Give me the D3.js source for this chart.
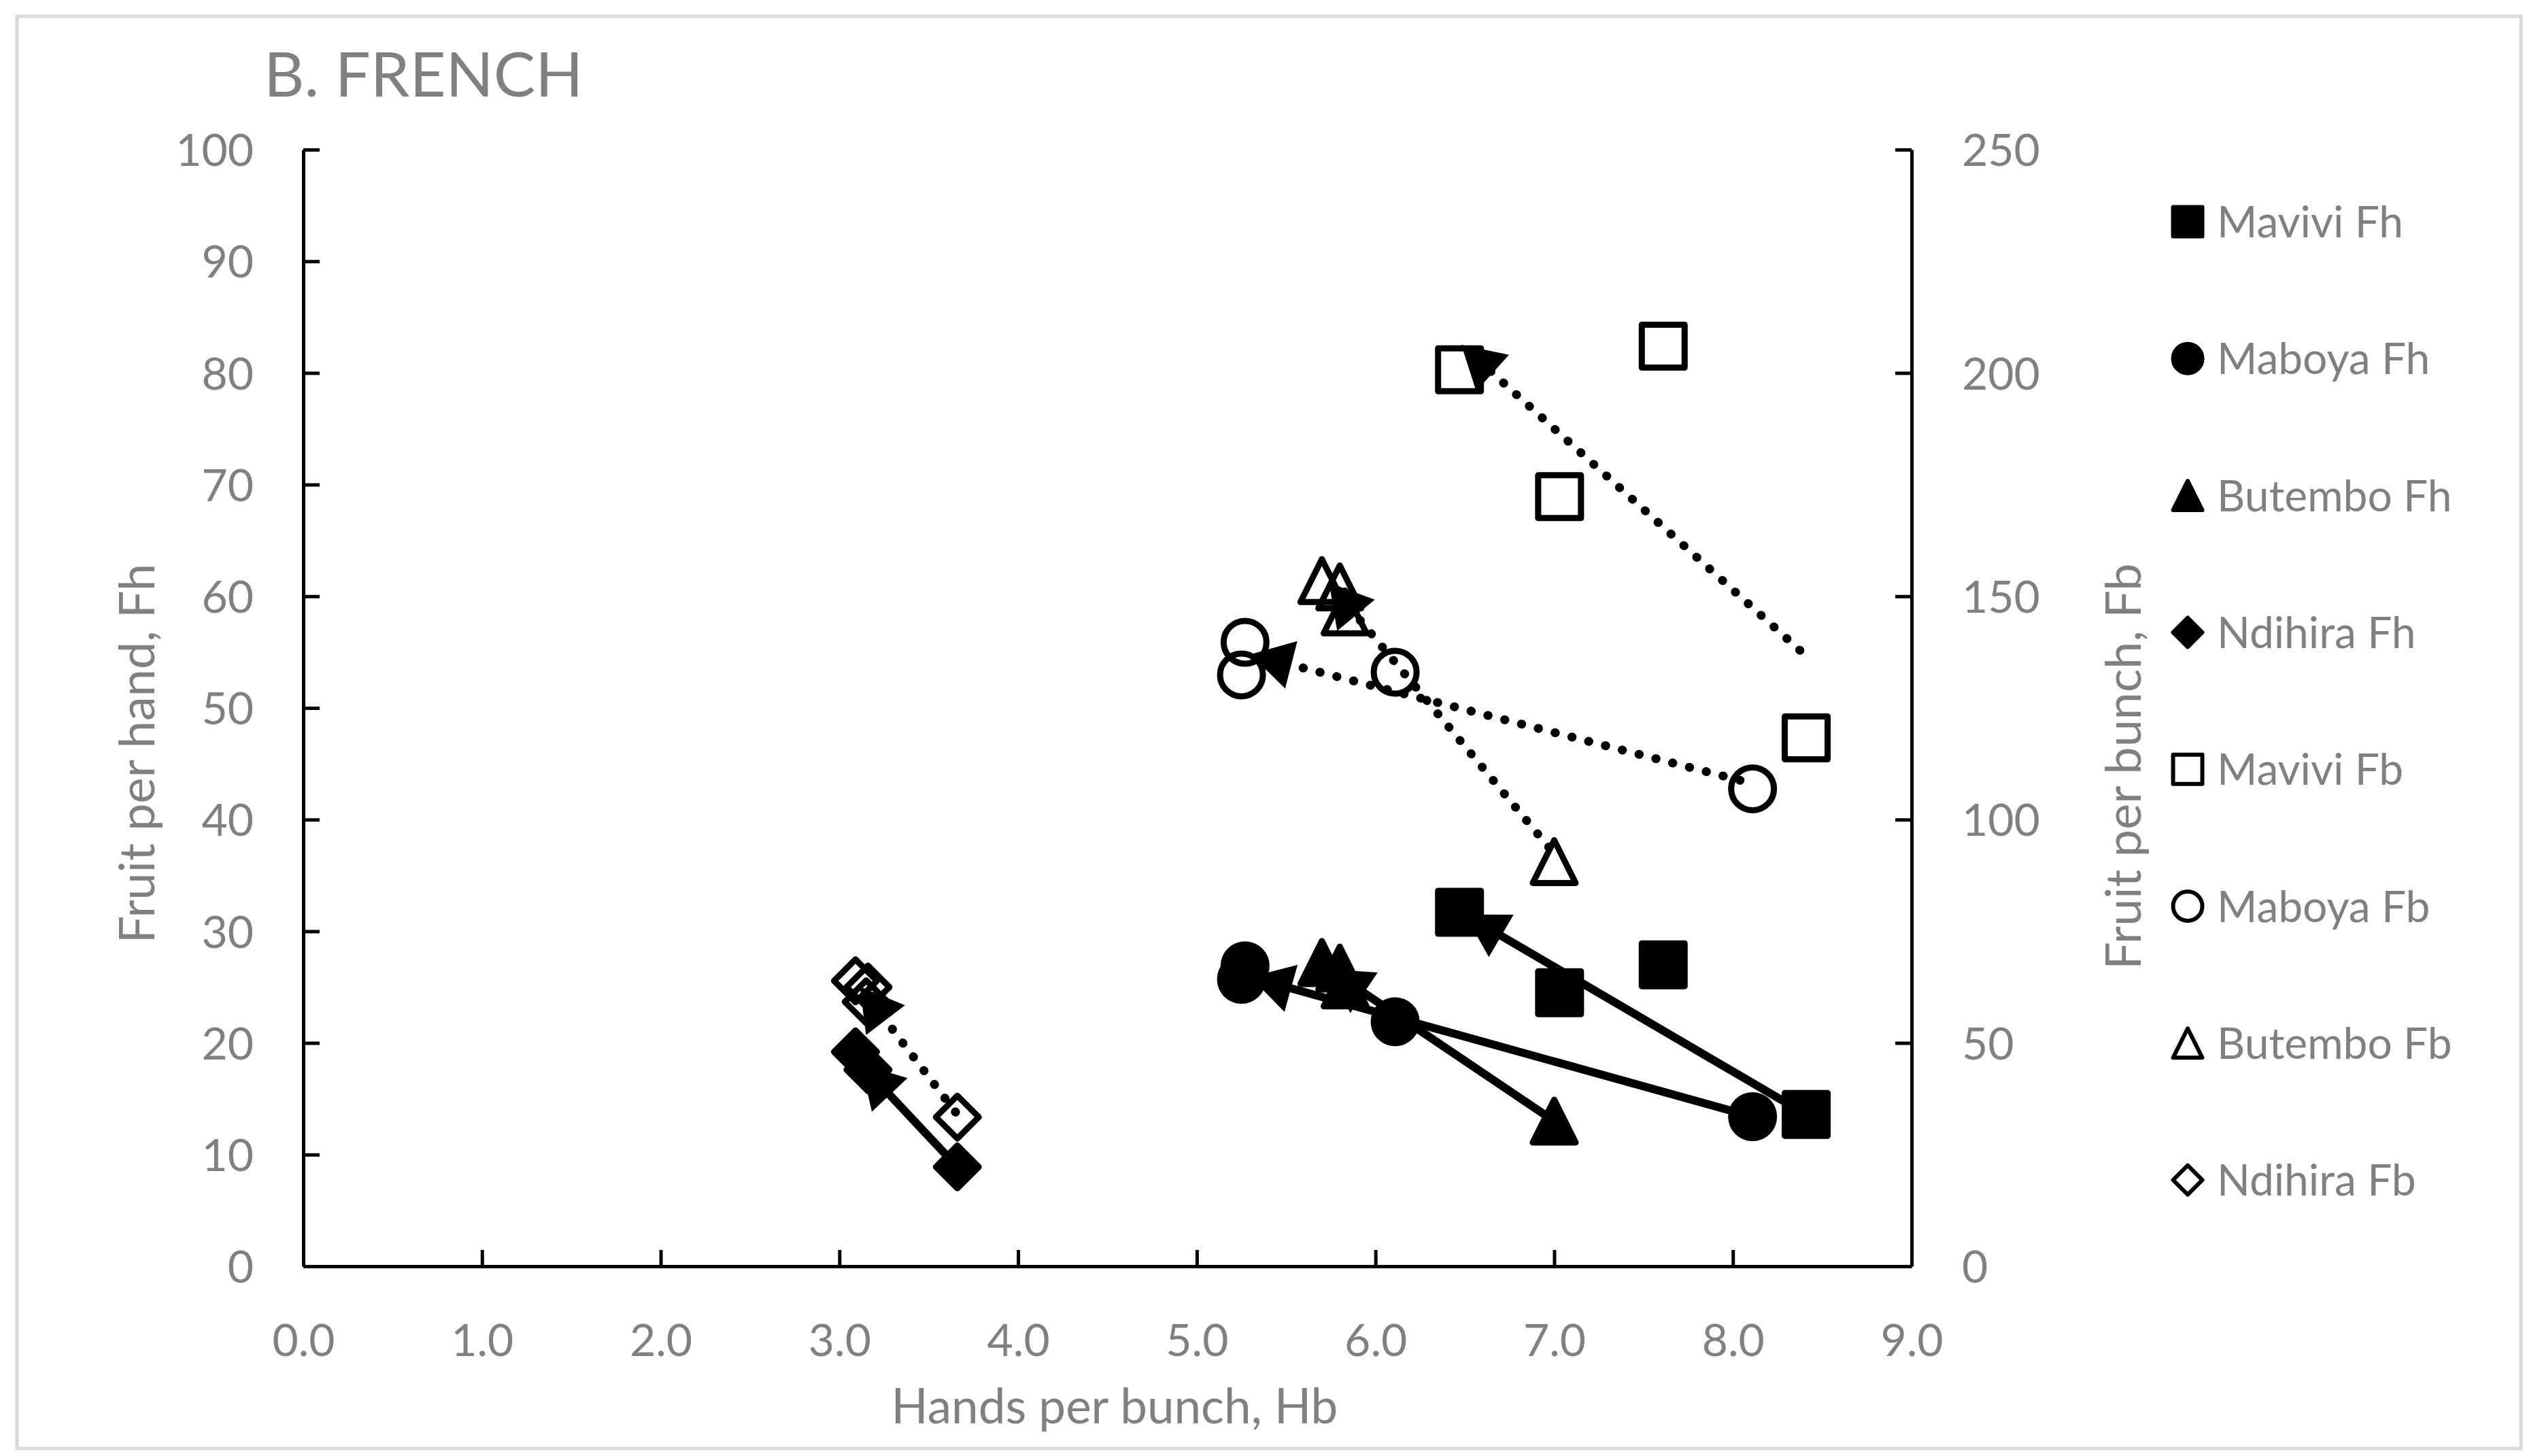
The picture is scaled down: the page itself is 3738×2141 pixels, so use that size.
<!DOCTYPE html>
<html>
<head>
<meta charset="utf-8">
<script src="https://cdn.jsdelivr.net/npm/d3@7"></script>
<style>
  html, body { margin: 0; padding: 0; background: #fff; }
  text { font-family: Lato, "Open Sans", sans-serif; fill: #808080; }
</style>
</head>
<body>
<svg id="chart" width="3738" height="2141"></svg>
<script>
// Hands per bunch (x) and fruit values
var maviviHb = [6.47, 7.03, 7.61, 8.41];
var maviviFh = [31.7, 24.5, 27.0, 13.6];
var maviviFb = [200.7, 172.3, 206.0, 118.3];

var maboyaHb = [5.27, 5.25, 6.11, 8.11];
var maboyaFh = [26.9, 25.7, 21.9, 13.4];
var maboyaFb = [139.7, 132.4, 133.0, 106.9];

var butemboHb = [5.70, 5.80, 5.83, 7.00];
var butemboFh = [27.2, 26.7, 25.2, 13.0];
var butemboFb = [153.5, 152.1, 146.5, 90.6];

var ndihiraHbFh = [3.09, 3.16, 3.66];
var ndihiraFh = [19.2, 17.6, 8.9];
var ndihiraHbFb = [3.09, 3.16, 3.15, 3.66];
var ndihiraFb = [63.9, 62.5, 59.2, 33.4];

// trend arrows: [x0, y0, x1, y1], arrow head at the second point
var fhArrows = [
    [8.41, 13.6, 6.50, 31.5],
    [8.11, 13.4, 5.30, 25.9],
    [7.00, 13.0, 5.74, 26.6],
    [3.66, 8.9, 3.12, 18.1]
];
var fbArrows = [
    [8.375, 137.9, 6.48, 206.3],
    [8.04, 108.8, 5.30, 137.0],
    [6.97, 93.8, 5.74, 153.0],
    [3.65, 34.5, 3.115, 62.6]
];

var xTicks = [0, 1, 2, 3, 4, 5, 6, 7, 8, 9];
var yLeftTicks = [0, 10, 20, 30, 40, 50, 60, 70, 80, 90, 100];
var yRightTicks = [0, 50, 100, 150, 200, 250];

var seriesList = [
    { name: "Mavivi Fh", shape: "square", filled: true, axis: "left", hb: maviviHb, vals: maviviFh },
    { name: "Maboya Fh", shape: "circle", filled: true, axis: "left", hb: maboyaHb, vals: maboyaFh },
    { name: "Butembo Fh", shape: "triangle", filled: true, axis: "left", hb: butemboHb, vals: butemboFh },
    { name: "Ndihira Fh", shape: "diamond", filled: true, axis: "left", hb: ndihiraHbFh, vals: ndihiraFh },
    { name: "Mavivi Fb", shape: "square", filled: false, axis: "right", hb: maviviHb, vals: maviviFb },
    { name: "Maboya Fb", shape: "circle", filled: false, axis: "right", hb: maboyaHb, vals: maboyaFb },
    { name: "Butembo Fb", shape: "triangle", filled: false, axis: "right", hb: butemboHb, vals: butemboFb },
    { name: "Ndihira Fb", shape: "diamond", filled: false, axis: "right", hb: ndihiraHbFb, vals: ndihiraFb }
];

var svg = d3.select("#chart");
var plotLeft = 446, plotRight = 2811, plotTop = 220, plotBottom = 1862;

var x = d3.scaleLinear().domain([0, 9]).range([plotLeft, plotRight]);
var yL = d3.scaleLinear().domain([0, 100]).range([plotBottom, plotTop]);
var yR = d3.scaleLinear().domain([0, 250]).range([plotBottom, plotTop]);

// outer frame
svg.append("rect")
    .attr("x", 25).attr("y", 24)
    .attr("width", 3682).attr("height", 2106)
    .attr("fill", "none")
    .attr("stroke", "#d9d9d9")
    .attr("stroke-width", 5);

// marker path of a given outer size
function markerPath(shape, s) {
    var h = s / 2;
    switch (shape) {
        case "square":
            return "M" + (-h) + "," + (-h) + "H" + h + "V" + h + "H" + (-h) + "Z";
        case "triangle":
            return "M0," + (-h) + "L" + h + "," + h + "L" + (-h) + "," + h + "Z";
        case "diamond":
            return "M0," + (-h) + "L" + h + ",0L0," + h + "L" + (-h) + ",0Z";
        default:
            return "M" + (-h) + ",0A" + h + "," + h + " 0 1,0 " + h + ",0A" + h + "," + h + " 0 1,0 " + (-h) + ",0Z";
    }
}

// axes
var fmtX = d3.format(".1f");
var xAxis = svg.append("g").attr("transform", "translate(0," + plotBottom + ")")
    .call(d3.axisBottom(x).tickValues(xTicks).tickFormat(fmtX).tickSizeInner(-24).tickSizeOuter(0).tickPadding(0));
var yAxisL = svg.append("g").attr("transform", "translate(" + plotLeft + ",0)")
    .call(d3.axisLeft(yL).tickValues(yLeftTicks).tickSizeInner(-24).tickSizeOuter(0).tickPadding(0));
var yAxisR = svg.append("g").attr("transform", "translate(" + plotRight + ",0)")
    .call(d3.axisRight(yR).tickValues(yRightTicks).tickSizeInner(-24).tickSizeOuter(0).tickPadding(0));

[xAxis, yAxisL, yAxisR].forEach(function(g) {
    g.attr("font-family", null).attr("font-size", null);
    g.selectAll(".domain").attr("stroke", "#000").attr("stroke-width", 5);
    g.selectAll(".tick line").attr("stroke", "#000").attr("stroke-width", 5);
    g.selectAll(".tick text").attr("fill", "#808080").style("font-size", "66px");
});
xAxis.selectAll(".tick text").attr("y", 132).attr("dy", 0);
yAxisL.selectAll(".tick text").attr("x", -73).attr("dy", "0.36em");
yAxisR.selectAll(".tick text").attr("x", 74).attr("dy", "0.36em").attr("text-anchor", "start");
// the 0 tick on the x axis sits in the corner
xAxis.selectAll(".tick line").filter(function(d) { return d === 0; }).remove();

// markers
var markerSize = 63;
seriesList.forEach(function(s) {
    var yScale = s.axis === "left" ? yL : yR;
    svg.append("g").selectAll("path")
        .data(s.hb.map(function(h, i) { return [h, s.vals[i]]; }))
        .join("path")
        .attr("transform", function(d) { return "translate(" + x(d[0]) + "," + yScale(d[1]) + ")"; })
        .attr("d", markerPath(s.shape, markerSize))
        .attr("fill", s.filled ? "#000" : "none")
        .attr("stroke", "#000")
        .attr("stroke-width", 9)
        .attr("stroke-linejoin", "round");
});

// arrows
function drawArrow(a, yScale, dotted) {
    var x0 = x(a[0]), y0 = yScale(a[1]), x1 = x(a[2]), y1 = yScale(a[3]);
    var dx = x1 - x0, dy = y1 - y0, len = Math.sqrt(dx * dx + dy * dy);
    var ux = dx / len, uy = dy / len;
    var headLen = 62, headW = 72;
    var bx = x1 - ux * headLen, by = y1 - uy * headLen;
    svg.append("line")
        .attr("x1", x0).attr("y1", y0)
        .attr("x2", bx + ux * 4).attr("y2", by + uy * 4)
        .attr("stroke", "#000")
        .attr("stroke-width", dotted ? 13 : 12)
        .attr("stroke-linecap", dotted ? "round" : "butt")
        .attr("stroke-dasharray", dotted ? "0.5,25" : null);
    svg.append("path")
        .attr("d", "M" + x1 + "," + y1 +
            "L" + (bx - uy * headW / 2) + "," + (by + ux * headW / 2) +
            "L" + (bx + uy * headW / 2) + "," + (by - ux * headW / 2) + "Z")
        .attr("fill", "#000");
}
fhArrows.forEach(function(a) { drawArrow(a, yL, false); });
fbArrows.forEach(function(a) { drawArrow(a, yR, true); });

// titles
svg.append("text")
    .attr("x", 388).attr("y", 142)
    .style("font-size", "92px")
    .text("B. FRENCH");

svg.append("text")
    .attr("x", 1639).attr("y", 2093)
    .attr("text-anchor", "middle")
    .style("font-size", "71px")
    .text("Hands per bunch, Hb");

svg.append("text")
    .attr("transform", "translate(201,1108) rotate(-90)")
    .attr("text-anchor", "middle")
    .attr("dy", "0.36em")
    .style("font-size", "72px")
    .text("Fruit per hand, Fh");

svg.append("text")
    .attr("transform", "translate(3122,1127) rotate(-90)")
    .attr("text-anchor", "middle")
    .attr("dy", "0.36em")
    .style("font-size", "72px")
    .text("Fruit per bunch, Fb");

// legend
var legend = svg.append("g").selectAll("g")
    .data(seriesList)
    .join("g")
    .attr("transform", function(d, i) { return "translate(3217," + (326 + i * 201.3) + ")"; });
legend.append("path")
    .attr("d", function(d) { return markerPath(d.shape, 43); })
    .attr("fill", function(d) { return d.filled ? "#000" : "none"; })
    .attr("stroke", "#000")
    .attr("stroke-width", 6)
    .attr("stroke-linejoin", "round");
legend.append("text")
    .attr("x", 43)
    .attr("dy", "0.36em")
    .style("font-size", "64px")
    .text(function(d) { return d.name; });
</script>
</body>
</html>
